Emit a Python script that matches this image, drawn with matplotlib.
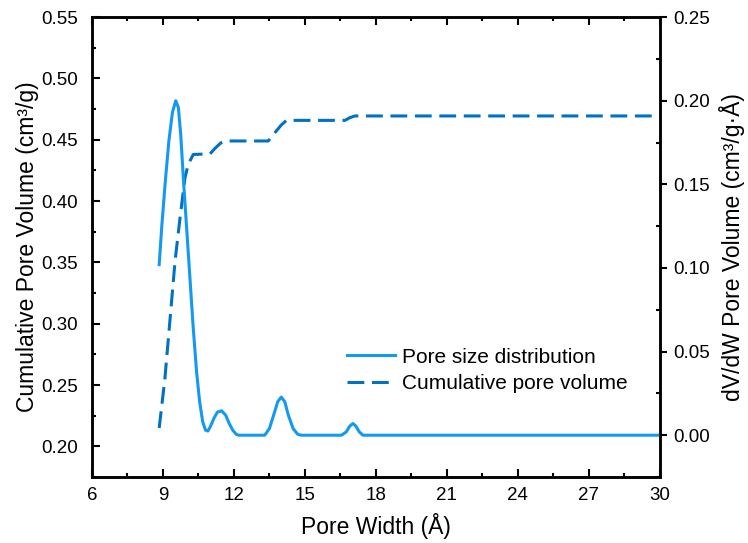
import matplotlib
matplotlib.use('Agg')
import matplotlib.pyplot as plt
from matplotlib.ticker import MultipleLocator

plt.rcParams['font.family'] = ['Liberation Sans', 'DejaVu Sans']
plt.rcParams['font.size'] = 14

# pore size distribution (right axis)
psd_x = [8.84, 8.95, 9.1, 9.25, 9.4, 9.54, 9.65, 9.75, 9.86, 10.0, 10.14, 10.28,
         10.42, 10.55, 10.68, 10.8, 10.9, 11.0, 11.15, 11.3, 11.48, 11.65, 11.8,
         11.95, 12.1, 12.2, 13.3, 13.5, 13.7, 13.85, 14.0, 14.15, 14.3, 14.5, 14.7,
         14.85, 16.55, 16.75, 16.9, 17.03, 17.15, 17.3, 17.45, 30.0]
psd_y = [0.102, 0.125, 0.152, 0.176, 0.193, 0.200, 0.196, 0.180, 0.154, 0.124, 0.094, 0.064,
         0.038, 0.020, 0.008, 0.003, 0.0025, 0.005, 0.010, 0.0138, 0.0146, 0.012, 0.007,
         0.003, 0.0005, 0.0, 0.0, 0.004, 0.013, 0.020, 0.0228, 0.020, 0.012, 0.004, 0.0005,
         0.0, 0.0, 0.002, 0.0055, 0.007, 0.0055, 0.002, 0.0, 0.0]

# cumulative pore volume (left axis)
cum_x = [8.84, 9.08, 9.30, 9.51, 9.72, 9.93, 10.07, 10.28, 10.99, 11.2, 11.45, 11.69,
         13.45, 13.7, 14.0, 14.22, 16.69, 16.9, 17.11, 30.0]
cum_y = [0.215, 0.255, 0.304, 0.351, 0.386, 0.419, 0.430, 0.438, 0.4385, 0.443, 0.4475, 0.449,
         0.449, 0.455, 0.462, 0.4658, 0.4658, 0.468, 0.4694, 0.4694]

solid_color = '#1499F2'
dash_color = '#0071C5'

fig = plt.figure(figsize=(7.48, 5.43), dpi=100)
ax1 = fig.add_axes([0.123, 0.1215, 0.759, 0.847])
ax2 = ax1.twinx()

l2, = ax1.plot(cum_x, cum_y, color=dash_color, lw=2.2, dashes=(5.5, 2.5),
               label='Cumulative pore volume')
l1, = ax2.plot(psd_x, psd_y, color=solid_color, lw=2.2, label='Pore size distribution')

ax1.set_xlim(6, 30)
ax1.set_ylim(0.175, 0.55)
ax2.set_ylim(-0.025, 0.25)

ax1.xaxis.set_major_locator(MultipleLocator(3))
ax1.xaxis.set_minor_locator(MultipleLocator(1.5))
ax1.yaxis.set_major_locator(MultipleLocator(0.05))
ax1.yaxis.set_minor_locator(MultipleLocator(0.025))
ax2.yaxis.set_major_locator(MultipleLocator(0.05))
ax2.yaxis.set_minor_locator(MultipleLocator(0.025))
ax1.yaxis.set_major_formatter(plt.FormatStrFormatter('%.2f'))
ax2.yaxis.set_major_formatter(plt.FormatStrFormatter('%.2f'))

ax1.tick_params(which='both', direction='in', top=True, right=False, width=1.5, labelsize=13.5)
ax1.tick_params(which='major', length=6, pad=7)
ax1.tick_params(axis='y', which='major', pad=10)
ax1.tick_params(which='minor', length=3)
ax2.tick_params(which='major', direction='out', length=5, width=1.5, labelsize=13.5, pad=5)
ax2.tick_params(which='minor', direction='in', length=3, width=1.5)

for ax in (ax1, ax2):
    for s in ax.spines.values():
        s.set_linewidth(1.8)

ax1.set_xlabel('Pore Width (Å)', fontsize=16.5, labelpad=7)
ax1.set_ylabel('Cumulative Pore Volume (cm³/g)', fontsize=16.5, labelpad=2)
ax2.set_ylabel('dV/dW Pore Volume (cm³/g·Å)', fontsize=16.5, labelpad=6)

fig.legend([l1, l2], ['Pore size distribution', 'Cumulative pore volume'],
           loc='upper left', bbox_to_anchor=(0.464, 0.360), frameon=False,
           borderpad=0, borderaxespad=0,
           fontsize=15, handlelength=2.3, handletextpad=0.35, labelspacing=0.35)

fig.savefig('out.png', dpi=100)
